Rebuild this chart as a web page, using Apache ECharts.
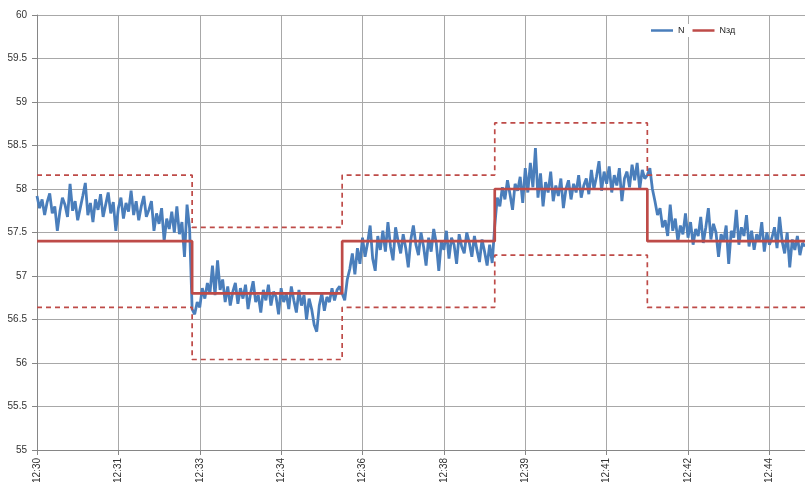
<!DOCTYPE html>
<html>
<head>
<meta charset="utf-8">
<script src="https://cdn.jsdelivr.net/npm/echarts@6/dist/echarts.min.js"></script>
<style>
  html, body { margin: 0; padding: 0; background: #fff; }
  #chart { width: 805px; height: 482px; }
</style>
</head>
<body>
<div id="chart"></div>
<script>
// Sampling of the measured power: one reading every 3 s starting 12:30:00
const startTime = '12:30:00';
const stepSeconds = 3;
const sampleCount = 303;
const labelEvery = 32;          // one time label per 32 samples

// Measured active power N, MW
const powerN = [
  57.92, 57.78, 57.88, 57.70, 57.85, 57.95, 57.72, 57.80, 57.52, 57.74,
  57.90, 57.82, 57.68, 58.06, 57.75, 57.86, 57.64, 57.78, 57.92, 58.07,
  57.70, 57.84, 57.62, 57.88, 57.76, 57.94, 57.68, 57.82, 57.96, 57.72,
  57.85, 57.52, 57.78, 57.90, 57.66, 57.84, 57.74, 57.98, 57.70, 57.86,
  57.64, 57.80, 57.92, 57.68, 57.76, 57.86, 57.52, 57.72, 57.60, 57.78,
  57.40, 57.66, 57.54, 57.74, 57.50, 57.80, 57.48, 57.62, 57.22, 57.82,
  57.55,
  56.62, 56.56, 56.70, 56.64, 56.86, 56.74, 56.92, 56.80, 57.12, 56.78,
  57.18, 56.84, 56.96, 56.70, 56.88, 56.66, 56.82, 56.92, 56.68, 56.86,
  56.74, 56.90, 56.62, 56.80, 56.94, 56.70, 56.78, 56.58, 56.84, 56.72,
  56.90, 56.66, 56.82, 56.76, 56.56, 56.86, 56.70, 56.80, 56.62, 56.88,
  56.72, 56.58, 56.84, 56.66, 56.78, 56.50, 56.74, 56.62, 56.44, 56.36,
  56.66, 56.80, 56.60, 56.76, 56.70, 56.86, 56.72, 56.84, 56.88,
  56.80, 56.72, 56.96, 57.08, 57.26, 57.02, 57.32, 57.14, 57.44, 57.22,
  57.38, 57.58, 57.20, 57.06, 57.46, 57.30, 57.52, 57.28, 57.62, 57.34,
  57.18, 57.56, 57.40, 57.26, 57.48, 57.32, 57.10, 57.42, 57.58, 57.36,
  57.24, 57.50, 57.34, 57.12, 57.44, 57.28, 57.54, 57.38, 57.06, 57.40,
  57.30, 57.52, 57.20, 57.44, 57.36, 57.14, 57.48, 57.34, 57.26, 57.50,
  57.38, 57.22, 57.46, 57.30, 57.16, 57.42, 57.28, 57.12, 57.36, 57.15,
  57.58, 57.90, 57.80, 58.02, 57.88, 58.10, 57.94, 57.76, 58.06, 57.98,
  58.14, 57.84, 58.24, 57.96, 58.30, 58.02, 58.47, 57.90, 58.18, 57.80,
  58.08, 57.96, 58.20, 57.86, 58.04, 57.92, 58.12, 57.78, 58.00, 58.10,
  57.88, 58.06, 57.96, 58.16, 57.90, 58.04, 58.12, 57.94, 58.22, 58.00,
  58.14, 58.32, 57.98, 58.20, 58.06, 58.26, 57.96, 58.16, 58.04, 58.24,
  57.86, 58.12, 58.20, 58.02, 58.28, 58.10, 58.30, 58.00, 58.22, 58.12,
  58.16, 58.24, 58.00, 57.86, 57.70, 57.78, 57.56, 57.64, 57.46, 57.82,
  57.52, 57.66, 57.40, 57.58, 57.48, 57.72, 57.44, 57.62, 57.36, 57.54,
  57.46, 57.68, 57.38, 57.56, 57.78, 57.42, 57.60, 57.50, 57.22, 57.48,
  57.40, 57.58, 57.14, 57.52, 57.44, 57.76, 57.36, 57.56, 57.46, 57.70,
  57.34, 57.52, 57.30, 57.48, 57.40, 57.62, 57.28, 57.50, 57.36, 57.44,
  57.56, 57.32, 57.68, 57.40, 57.26, 57.50, 57.10, 57.42, 57.30, 57.46,
  57.24, 57.38, 57.34
];

// Setpoint Nзд and its tolerance band, piecewise constant from each start sample
const stepIndex  = [0, 61, 120, 180, 240];
const setpoint   = [57.4, 56.8, 57.4, 58.0, 57.4];
const upperBound = [58.16, 57.56, 58.16, 58.76, 58.16];
const lowerBound = [56.64, 56.04, 56.64, 57.24, 56.64];

// Value axis range
const yMin = 55, yMax = 60, yStep = 0.5;

// Time categories hh:mm:ss
function buildTimes() {
  const [h, m, s] = startTime.split(':').map(Number);
  const t0 = h * 3600 + m * 60 + s;
  const out = [];
  for (let i = 0; i < sampleCount; i++) {
    const t = t0 + i * stepSeconds;
    const hh = String(Math.floor(t / 3600)).padStart(2, '0');
    const mm = String(Math.floor(t / 60) % 60).padStart(2, '0');
    const ss = String(t % 60).padStart(2, '0');
    out.push(hh + ':' + mm + ':' + ss);
  }
  return out;
}
const times = buildTimes();

// Turn piecewise levels into [index, value] corner points
function stepLine(levels) {
  const pts = [];
  for (let k = 0; k < levels.length; k++) {
    const a = stepIndex[k];
    const b = k + 1 < stepIndex.length ? stepIndex[k + 1] : sampleCount - 1;
    pts.push([a, levels[k]], [b, levels[k]]);
  }
  return pts;
}

const BLUE = '#4A7EBB';
const RED = '#BE4B48';
const GRID = '#a8a8a8';
const AXIS = '#868686';
const FONT = 'Liberation Sans, Arial, sans-serif';

const chart = echarts.init(document.getElementById('chart'), null, { renderer: 'canvas' });
chart.setOption({
  animation: false,
  backgroundColor: '#fff',
  grid: { left: 37, right: 0, top: 15, bottom: 32, containLabel: false, outerBoundsMode: 'none' },
  legend: {
    data: ['N', 'Nзд'],
    left: 649, top: 24,
    icon: 'rect', itemWidth: 22, itemHeight: 2.5, itemGap: 8,
    backgroundColor: '#fff', padding: [2, 2],
    textStyle: { fontSize: 9, color: '#222', fontFamily: FONT }
  },
  xAxis: {
    type: 'category',
    data: times,
    boundaryGap: false,
    axisLine: { lineStyle: { color: AXIS, width: 1 } },
    axisTick: { show: true, interval: labelEvery - 1, length: 5, lineStyle: { color: AXIS } },
    axisLabel: {
      interval: labelEvery - 1, rotate: 90, margin: 8,
      fontSize: 10, color: '#333', fontFamily: FONT,
      formatter: v => v.slice(0, 5)
    },
    splitLine: { show: true, interval: labelEvery - 1, lineStyle: { color: GRID, width: 1 } }
  },
  yAxis: {
    type: 'value',
    min: yMin, max: yMax, interval: yStep,
    name: 'МВт',
    nameLocation: 'middle', nameGap: 26, nameRotate: 90,
    nameTextStyle: { fontSize: 10, fontWeight: 'bold', color: '#111', fontFamily: FONT },
    axisLine: { show: true, lineStyle: { color: AXIS, width: 1 } },
    axisTick: { show: true, length: 5, lineStyle: { color: AXIS } },
    axisLabel: { fontSize: 10, color: '#333', margin: 10, fontFamily: FONT },
    splitLine: { show: true, lineStyle: { color: GRID, width: 1 } }
  },
  series: [
    {
      name: 'N', type: 'line', data: powerN,
      symbol: 'none', showSymbol: false,
      lineStyle: { color: BLUE, width: 2.8 }, itemStyle: { color: BLUE }
    },
    {
      name: 'Nзд', type: 'line', data: stepLine(setpoint),
      symbol: 'none', showSymbol: false,
      lineStyle: { color: RED, width: 2.7 }, itemStyle: { color: RED }
    },
    {
      name: 'upper', type: 'line', data: stepLine(upperBound),
      symbol: 'none', showSymbol: false,
      lineStyle: { color: RED, width: 1.7, type: [5, 4] }
    },
    {
      name: 'lower', type: 'line', data: stepLine(lowerBound),
      symbol: 'none', showSymbol: false,
      lineStyle: { color: RED, width: 1.7, type: [5, 4] }
    }
  ]
});
</script>
</body>
</html>
